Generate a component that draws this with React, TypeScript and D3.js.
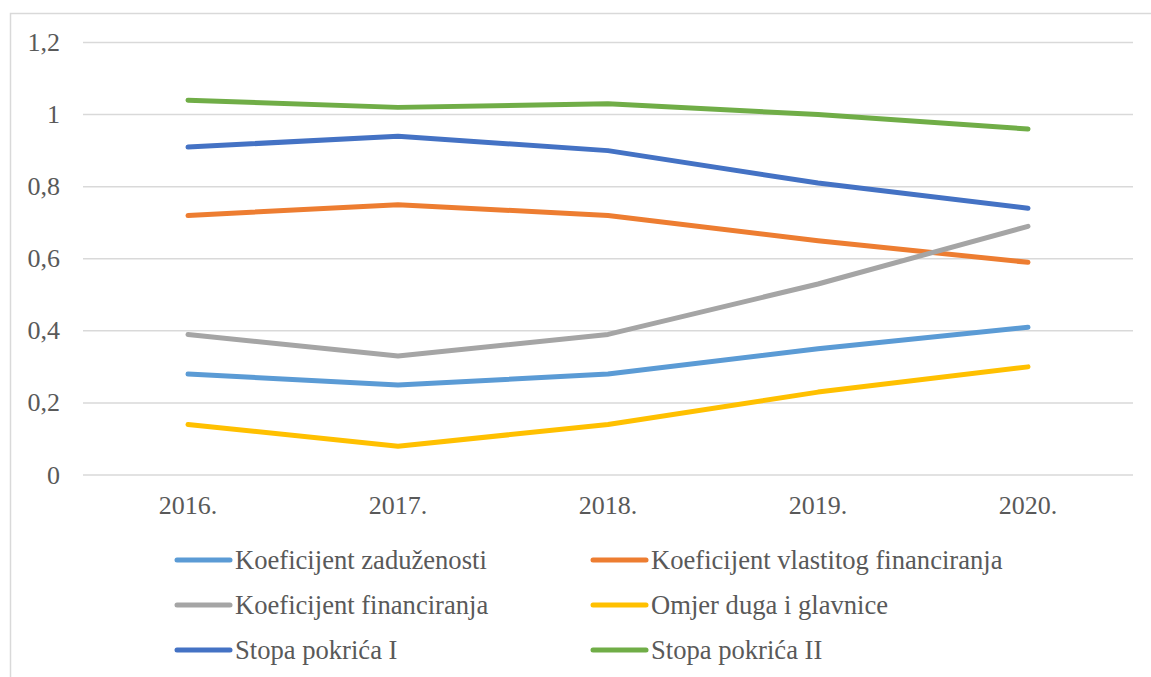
import React from 'react';
import * as d3 from 'd3';

// years on the x axis
const years = ['2016.', '2017.', '2018.', '2019.', '2020.'];

// series values
const zaduzenosti = [0.28, 0.25, 0.28, 0.35, 0.41];
const vlastitogFin = [0.72, 0.75, 0.72, 0.65, 0.59];
const financiranja = [0.39, 0.33, 0.39, 0.53, 0.69];
const omjerDuga = [0.14, 0.08, 0.14, 0.23, 0.30];
const pokricaI = [0.91, 0.94, 0.90, 0.81, 0.74];
const pokricaII = [1.04, 1.02, 1.03, 1.00, 0.96];

const seriesNames = [
  'Koeficijent zaduženosti',
  'Koeficijent vlastitog financiranja',
  'Koeficijent financiranja',
  'Omjer duga i glavnice',
  'Stopa pokrića I',
  'Stopa pokrića II'
];
const seriesValues = [zaduzenosti, vlastitogFin, financiranja, omjerDuga, pokricaI, pokricaII];
const colors = ['#5B9BD5', '#ED7D31', '#A5A5A5', '#FFC000', '#4472C4', '#70AD47'];

const yTicks = [0, 0.2, 0.4, 0.6, 0.8, 1, 1.2];

const W = 1151;
const H = 677;
const FONT = '"Liberation Serif", "Times New Roman", serif';
const TEXT = '#595959';

const App = () => {
  const plot = { left: 83, right: 1133, top: 42.5, bottom: 475 };

  const x = d3.scaleBand<string>()
    .domain(years)
    .range([plot.left, plot.right]);

  const y = d3.scaleLinear()
    .domain([0, 1.2])
    .range([plot.bottom, plot.top]);

  const line = d3.line<number>()
    .x((d, i) => x(years[i])! + x.bandwidth() / 2)
    .y(d => y(d));

  const fmt = (v: number) => String(v).replace('.', ',');

  // legend layout: two columns, three rows
  const legendCols = [177, 593];
  const legendRows = [560, 605, 650];

  return (
    <svg width={W} height={H} style={{ position: 'absolute', left: 0, top: 0, background: '#fff' }}
      fontFamily={FONT}>
      <rect x={10.5} y={13.5} width={W + 10} height={H + 10} fill="#fff" stroke="#d9d9d9" strokeWidth={1.5} />

      {/* gridlines */}
      {yTicks.map(t => (
        <line key={t} x1={plot.left} x2={plot.right} y1={y(t)} y2={y(t)} stroke="#d9d9d9" strokeWidth={1.5} />
      ))}

      {/* y labels */}
      {yTicks.map(t => (
        <text key={t} x={60} y={y(t)} dy="0.33em" textAnchor="end" fontSize={26} fill={TEXT}>{fmt(t)}</text>
      ))}

      {/* x labels */}
      {years.map(yr => (
        <text key={yr} x={x(yr)! + x.bandwidth() / 2} y={514} textAnchor="middle" fontSize={26} fill={TEXT}>{yr}</text>
      ))}

      {/* lines */}
      {seriesValues.map((vals, i) => (
        <path key={i} d={line(vals)!} fill="none" stroke={colors[i]} strokeWidth={5} strokeLinecap="round" strokeLinejoin="round" />
      ))}

      {/* legend */}
      {seriesNames.map((name, i) => {
        const lx = legendCols[i % 2];
        const ly = legendRows[Math.floor(i / 2)];
        return (
          <g key={name}>
            <line x1={lx} x2={lx + 53} y1={ly} y2={ly} stroke={colors[i]} strokeWidth={5} strokeLinecap="round" />
            <text x={lx + 58} y={ly} dy="0.33em" fontSize={26.6} fill={TEXT}>{name}</text>
          </g>
        );
      })}
    </svg>
  );
};

export default App;
